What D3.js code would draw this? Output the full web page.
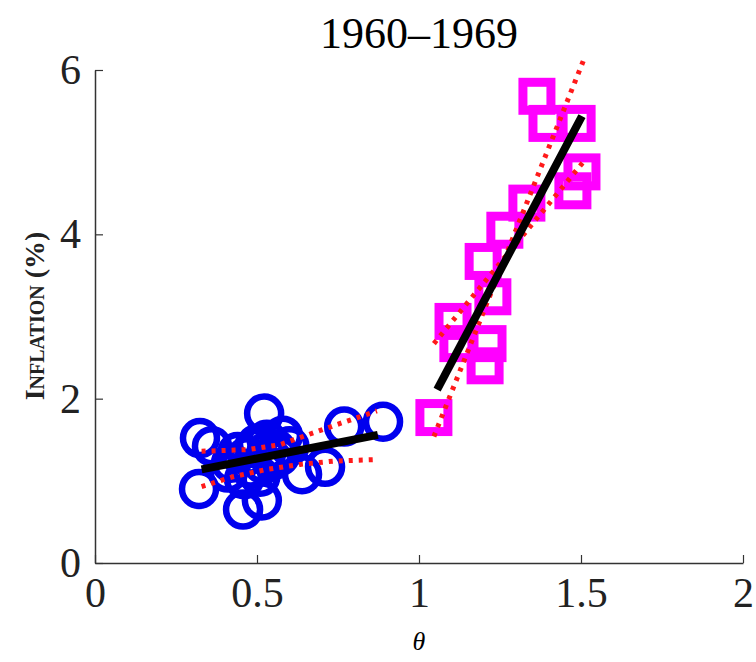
<!DOCTYPE html>
<html>
<head>
<meta charset="utf-8">
<script src="https://cdn.jsdelivr.net/npm/d3@7"></script>
<style>
  body { margin: 0; background: #fff; }
  svg { display: block; font-family: "Liberation Serif", "DejaVu Serif", serif; }
</style>
</head>
<body>
<div id="chart"></div>
<script>
// data
const title = "1960\u20131969";
const xTicks = [0, 0.5, 1, 1.5, 2];
const yTicks = [0, 2, 4, 6];

// blue circles (theta, inflation)
const circleTheta = [0.324, 0.361, 0.321, 0.457, 0.515, 0.522, 0.889, 0.769, 0.71, 0.639,
                     0.47, 0.50, 0.53, 0.56, 0.48, 0.55, 0.60, 0.42, 0.51, 0.58,
                     0.44, 0.52, 0.57, 0.46, 0.53, 0.49, 0.41];
const circleInfl  = [1.52, 1.42, 0.90, 0.65, 0.76, 1.82, 1.72, 1.66, 1.17, 1.08,
                     1.30, 1.45, 1.50, 1.38, 1.15, 1.25, 1.42, 1.22, 1.05, 1.55,
                     1.35, 1.20, 1.30, 1.02, 1.36, 1.40, 1.10];

// magenta squares
const squareTheta = [1.046, 1.105, 1.12, 1.213, 1.204, 1.198, 1.228, 1.265, 1.333, 1.364, 1.395, 1.488, 1.503, 1.475];
const squareInfl  = [1.77, 2.94, 2.67, 2.67, 2.40, 3.67, 3.24, 4.05, 4.38, 5.68, 5.35, 5.35, 4.76, 4.53];

// fitted lines (black) and bands (red dotted)
const fitLow  = [[0.329, 1.14], [0.873, 1.56]];
const bandLowUpper = [[0.329, 1.36], [0.472, 1.38], [0.571, 1.44], [0.664, 1.57], [0.765, 1.71], [0.870, 1.85]];
const bandLowLower = [[0.329, 0.93], [0.426, 1.05], [0.531, 1.14], [0.633, 1.20], [0.735, 1.24], [0.873, 1.26]];

const fitHigh = [[1.056, 2.11], [1.503, 5.44]];
const bandHighA = [[1.046, 1.54], [1.509, 6.13]];
const bandHighB = [[1.046, 2.67], [1.509, 4.89]];

const width = 756, height = 662;
const margin = { top: 70, right: 13, bottom: 99, left: 95 };

const x = d3.scaleLinear().domain([0, 2]).range([margin.left, width - margin.right]);
const y = d3.scaleLinear().domain([0, 6]).range([height - margin.bottom, margin.top]);

const svg = d3.select("#chart").append("svg")
    .attr("width", width)
    .attr("height", height);

// title
svg.append("text")
    .attr("x", x(1))
    .attr("y", 48)
    .attr("text-anchor", "middle")
    .style("font-size", "44px")
    .text(title);

// x axis, ticks pointing in
svg.append("g")
    .attr("transform", `translate(0,${y(0)})`)
    .call(d3.axisBottom(x).tickValues(xTicks).tickFormat(d3.format("~g"))
        .tickSizeInner(-8).tickSizeOuter(0).tickPadding(14))
    .call(g => g.select(".domain").attr("stroke", "#333").attr("stroke-width", 1.5))
    .call(g => g.selectAll(".tick line").attr("stroke", "#333").attr("stroke-width", 1.2))
    .call(g => g.selectAll(".tick text").attr("fill", "#222")
        .style("font-family", "Liberation Serif, serif").style("font-size", "42px"));

// y axis
svg.append("g")
    .attr("transform", `translate(${x(0)},0)`)
    .call(d3.axisLeft(y).tickValues(yTicks).tickFormat(d3.format("~g"))
        .tickSizeInner(-8).tickSizeOuter(0).tickPadding(14))
    .call(g => g.select(".domain").attr("stroke", "#333").attr("stroke-width", 1.5))
    .call(g => g.selectAll(".tick line").attr("stroke", "#333").attr("stroke-width", 1.2))
    .call(g => g.selectAll(".tick text").attr("fill", "#222")
        .style("font-family", "Liberation Serif, serif").style("font-size", "42px"));

// axis labels
svg.append("text")
    .attr("x", x(1))
    .attr("y", 650)
    .attr("text-anchor", "middle")
    .style("font-size", "26px")
    .style("font-style", "italic")
    .text("\u03b8");

svg.append("text")
    .attr("transform", `translate(44,316) rotate(-90)`)
    .attr("text-anchor", "middle")
    .style("font-size", "28px")
    .style("font-variant", "small-caps")
    .style("font-weight", "bold")
    .attr("fill", "#222")
    .text("Inflation (%)");

// circles
const circleData = circleTheta.map((t, i) => ({ t, v: circleInfl[i] }));
svg.append("g")
    .selectAll("circle")
    .data(circleData)
    .join("circle")
    .attr("cx", d => x(d.t))
    .attr("cy", d => y(d.v))
    .attr("r", 17)
    .attr("fill", "none")
    .attr("stroke", "#0000ee")
    .attr("stroke-width", 6.5);

// squares
const squareData = squareTheta.map((t, i) => ({ t, v: squareInfl[i] }));
const sq = 28;
svg.append("g")
    .selectAll("rect")
    .data(squareData)
    .join("rect")
    .attr("x", d => x(d.t) - sq / 2)
    .attr("y", d => y(d.v) - sq / 2)
    .attr("width", sq)
    .attr("height", sq)
    .attr("fill", "none")
    .attr("stroke", "#ff00ff")
    .attr("stroke-width", 9);

const line = d3.line().x(d => x(d[0])).y(d => y(d[1]));

// red dotted bands
[bandLowUpper, bandLowLower, bandHighA, bandHighB].forEach(b => {
    svg.append("path")
        .datum(b)
        .attr("fill", "none")
        .attr("stroke", "#ff1a1a")
        .attr("stroke-width", 5)
        .attr("stroke-dasharray", "4,6")
        .attr("d", line);
});

// black fits
[fitLow, fitHigh].forEach(f => {
    svg.append("path")
        .datum(f)
        .attr("fill", "none")
        .attr("stroke", "#000")
        .attr("stroke-width", 8)
        .attr("d", line);
});
</script>
</body>
</html>
